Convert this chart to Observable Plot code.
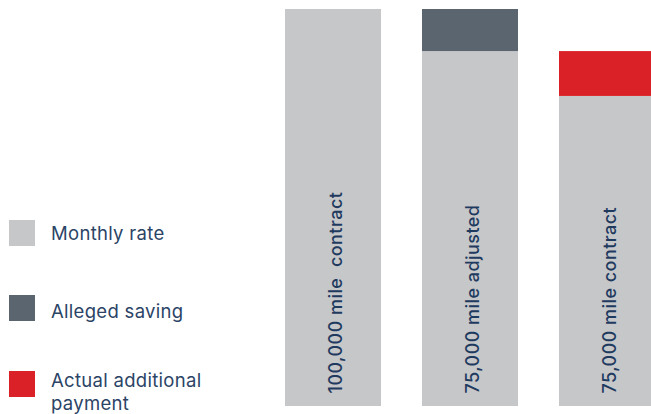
<!DOCTYPE html>
<html>
<head>
<meta charset="utf-8">
<script src="https://cdn.jsdelivr.net/npm/d3@7"></script>
<script src="https://cdn.jsdelivr.net/npm/@observablehq/plot@0.6"></script>
<style>
  html, body { margin: 0; padding: 0; background: #fff; overflow: hidden; }
  #wrap { position: relative; width: 651px; height: 414px; overflow: hidden; }
  #chart { position: absolute; left: 0; top: 0; }
  #chart text { letter-spacing: 0.45px; }
  .legend { position: absolute; left: 9px; font-family: Inter, "Open Sans", sans-serif; font-size: 18.5px; letter-spacing: 0.3px; color: #2b4466; }
  .legend .sw { position: absolute; left: 0; width: 26px; height: 26px; }
  .legend .lb { position: absolute; left: 42px; line-height: 23px; white-space: nowrap; }
</style>
</head>
<body>
<div id="wrap">
  <div id="chart"></div>
  <div id="legend"></div>
</div>
<script>
const categories = ["100,000 mile  contract", "75,000 mile adjusted", "75,000 mile contract"];
const series = ["Monthly rate", "Alleged saving", "Actual additional payment"];
const monthlyRate = [100, 89.4, 78.1];
const allegedSaving = [0, 10.6, 0];
const actualAdditional = [0, 0, 11.3];
const colors = ["#c6c7c9", "#5a6570", "#da2128"];

const values = [monthlyRate, allegedSaving, actualAdditional];
const table = [];
categories.forEach((c, i) => {
  series.forEach((s, j) => table.push({category: c, series: s, value: values[j][i]}));
});

const chart = Plot.plot({
  width: 651,
  height: 414,
  marginLeft: 0, marginRight: 0, marginTop: 0, marginBottom: 0,
  style: {background: "transparent", overflow: "hidden"},
  x: {domain: categories, range: [285, 656], paddingInner: 0.299, paddingOuter: 0, axis: null},
  y: {domain: [0, 100], range: [406, 9], axis: null},
  color: {domain: series, range: colors},
  marks: [
    Plot.barY(table, Plot.stackY({x: "category", y: "value", fill: "series", order: series})),
    Plot.text(categories, {
      x: d => d, y: 0, text: d => d,
      rotate: -90, textAnchor: "start", dy: -13, dx: 3,
      fill: "#1f3a5f", fontSize: 18, fontWeight: 500,
      fontFamily: "Inter, 'Open Sans', sans-serif"
    })
  ]
});
document.getElementById("chart").appendChild(chart);

// Legend
const legendTops = [220, 295, 371];
const labelOffsets = [1.5, 5, -2.5];
const legend = document.getElementById("legend");
series.forEach((s, i) => {
  const g = document.createElement("div");
  g.className = "legend";
  g.style.top = legendTops[i] + "px";
  const sw = document.createElement("div");
  sw.className = "sw";
  sw.style.background = colors[i];
  const lb = document.createElement("div");
  lb.className = "lb";
  lb.style.top = labelOffsets[i] + "px";
  lb.innerHTML = s === "Actual additional payment" ? "Actual additional<br>payment" : s;
  g.appendChild(sw); g.appendChild(lb);
  legend.appendChild(g);
});
</script>
</body>
</html>
